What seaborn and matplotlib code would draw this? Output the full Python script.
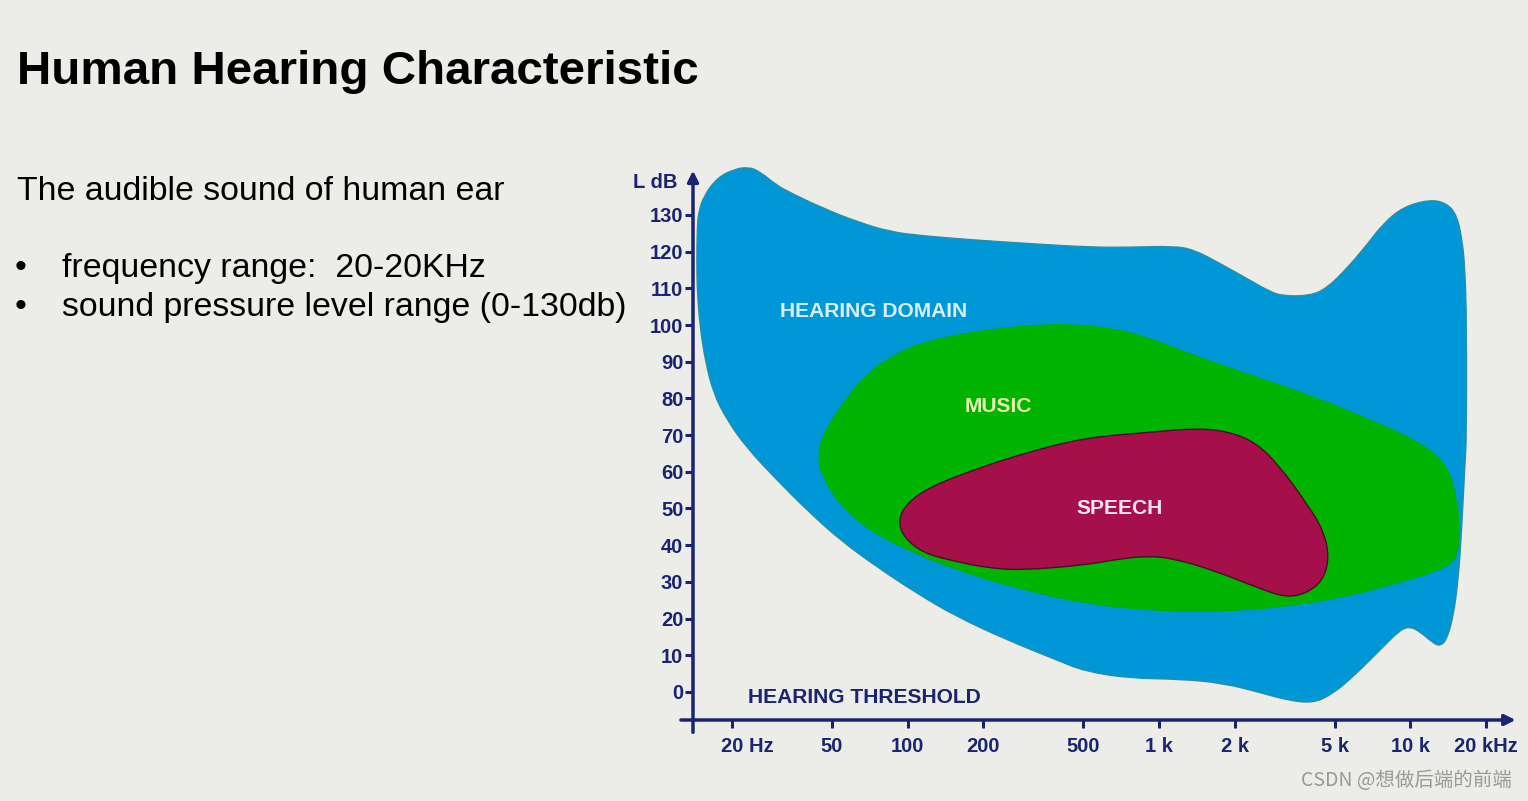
import numpy as np
import seaborn as sns
import matplotlib.pyplot as plt
from matplotlib.path import Path
from matplotlib.patches import PathPatch
from matplotlib.ticker import NullLocator
from matplotlib.transforms import ScaledTranslation

# Umrisse der Bereiche (Frequenz in Hz, Pegel in dB)
hearing_hz = [14.47, 14.55, 14.69, 15.38, 17.39, 20.24, 23.22, 25.85, 30.12, 34.02, 46.17,
              62.69, 85.06, 115.4, 182.5, 288.6, 531.7, 767.1, 1141, 1370, 1750, 2234, 2766,
              3125, 3990, 4650, 5587, 6708, 7811, 9383, 11985, 13964, 15304, 16021, 16515,
              16772, 16742, 16515, 16021, 15531, 14837, 13964, 13134, 12352, 10934, 9977,
              9104, 7578, 5935, 4941, 4114, 3224, 2601, 1803, 1212, 767.1, 507.8, 391.8,
              247.8, 156.7, 108.6, 75.3, 53.8, 39.66, 30.12, 22.9, 19.1, 16.85,
              15.62, 14.92, 14.55]
hearing_db = [117.7, 126.8, 130.4, 135.0, 140.0, 142.4, 143.1, 141.8, 138.1, 136.1, 131.8,
              128.2, 125.4, 124.3, 123.2, 122.3, 121.2, 121.2, 121.5, 120.6, 116.8, 112.7,
              109.1, 107.9, 108.0, 110.0, 115.4, 121.8, 127.7, 132.2, 134.2, 133.2, 130.0,
              124.1, 115.9, 99.5, 68.7, 62.3, 44.1, 30.5, 20.5, 14.2, 12.5, 13.3, 16.4, 17.8,
              16.9, 11.4, 4.2, -0.4, -3.1, -2.2, -0.4, 2.4, 3.5, 3.7, 5.6, 8.7, 14.2, 20.5,
              26.9, 34.1, 41.4, 49.6, 57.8, 66.5, 74.1, 81.4, 90.5, 99.5, 108.6]

music_hz = [45.5, 53.8, 66.6, 85.06, 115.4, 182.5, 288.6, 434.6, 658.1, 893.9, 1413, 2234,
            4114, 6504, 10734, 13964, 15304, 15772, 15304, 13134, 8831, 5587, 3533, 2234,
            1413, 893.9, 507.8, 288.6, 156.7, 99.1, 66.6, 50.6, 44.8, 44.1]
music_db = [69.6, 77.7, 85.9, 91.4, 95.4, 98.2, 99.8, 100.3, 99.1, 96.8, 91.4, 86.8, 80.5,
            75.0, 68.4, 62.3, 53.2, 44.1, 36.0, 33.2, 29.6, 26.0, 23.7, 22.3, 21.9, 22.3,
            24.1, 27.8, 33.2, 38.7, 45.0, 53.2, 60.5, 64.1]

speech_hz = [91.8, 99.1, 122.7, 182.5, 288.6, 507.8, 893.9, 1413, 1917, 2449, 3031, 3872,
             4508, 4762, 4508, 3872, 3224, 2601, 1646, 1141, 893.9, 658.1, 507.8, 288.6,
             212.7, 156.7, 115.4, 96.1]
speech_db = [46.9, 51.4, 55.9, 60.5, 65.0, 69.3, 70.7, 71.9, 70.9, 67.8, 61.4, 51.4, 44.1,
             36.9, 30.5, 26.9, 25.8, 27.8, 33.2, 36.4, 37.1, 36.0, 34.6, 33.2, 33.7, 35.5,
             37.8, 42.3]

freq_ticks = [20, 50, 100, 200, 500, 1000, 2000, 5000, 10000, 20000]
freq_labels = ['20 Hz', '50', '100', '200', '500', '1 k', '2 k', '5 k', '10 k', '20 kHz']
db_ticks = [0, 10, 20, 30, 40, 50, 60, 70, 80, 90, 100, 110, 120, 130]

bg = '#ECECE8'
navy = '#1B2470'


def blob(hz, db):
    # geschlossene, weiche Kontur: die Punkte sind Kontrollpunkte quadratischer Kurven
    hz = np.asarray(hz, float)
    db = np.asarray(db, float)
    hz_n = np.roll(hz, -1)
    db_n = np.roll(db, -1)
    mid_hz = np.sqrt(hz * hz_n)
    mid_db = (db + db_n) / 2
    verts = [(mid_hz[-1], mid_db[-1])]
    codes = [Path.MOVETO]
    for i in range(len(hz)):
        verts += [(hz[i], db[i]), (mid_hz[i], mid_db[i])]
        codes += [Path.CURVE3, Path.CURVE3]
    verts.append(verts[0])
    codes.append(Path.CLOSEPOLY)
    return Path(verts, codes)


sns.set_theme(style='ticks')
plt.rcParams['font.family'] = ['Liberation Sans', 'DejaVu Sans']

fig = plt.figure(figsize=(15.28, 8.01), dpi=100, facecolor=bg)

# Textteil links
fig.text(17 / 1528, 1 - 84 / 801, 'Human Hearing Characteristic', fontsize=34.2,
         fontweight='bold', color='black', va='baseline')
fig.text(17 / 1528, 1 - 200 / 801, 'The audible sound of human ear', fontsize=24.4,
         color='black', va='baseline')
fig.text(15 / 1528, 1 - 277 / 801, '•', fontsize=24.4, color='black', va='baseline')
fig.text(62 / 1528, 1 - 277 / 801, 'frequency range:  20-20KHz', fontsize=24.4,
         color='black', va='baseline')
fig.text(15 / 1528, 1 - 316 / 801, '•', fontsize=24.4, color='black', va='baseline')
fig.text(62 / 1528, 1 - 316 / 801, 'sound pressure level range (0-130db)', fontsize=24.4,
         color='black', va='baseline')

# Diagramm
ax = fig.add_axes([693 / 1528, 81 / 801, 827 / 1528, 560 / 801])
ax.patch.set_visible(False)
ax.set_xscale('log')
ax.set_xlim(13.99, 27335)
ax.set_ylim(-7.63, 144.96)

ax.add_patch(PathPatch(blob(hearing_hz, hearing_db), fc='#0097D7', ec='#2C8FA0', lw=0.9,
                       zorder=1, transform=ax.transData, clip_on=False))
ax.add_patch(PathPatch(blob(music_hz, music_db), fc='#00B400', ec='#00AC00', lw=0.6,
                       zorder=2, transform=ax.transData))
ax.add_patch(PathPatch(blob(speech_hz, speech_db), fc='#A5104A', ec='#4E0A26', lw=1.0,
                       zorder=3, transform=ax.transData))

ax.set_xticks(freq_ticks, freq_labels)
ax.xaxis.set_minor_locator(NullLocator())
ax.set_yticks(db_ticks)
ax.tick_params(axis='both', direction='out', length=5.5, width=2.2, color=navy,
               labelcolor=navy, labelsize=14.5, bottom=True, left=True)
ax.tick_params(axis='x', pad=7)
ax.tick_params(axis='y', pad=1.5)
for lab in ax.get_xticklabels() + ax.get_yticklabels():
    lab.set_fontweight('bold')
first = ax.get_xticklabels()[0]
first.set_transform(first.get_transform() + ScaledTranslation(0.15, 0, fig.dpi_scale_trans))

for s in ax.spines.values():
    s.set_visible(False)

# Achsen mit Pfeilen
ax.annotate('', xy=(0, 0.986), xytext=(0, -0.027), xycoords='axes fraction',
            arrowprops=dict(arrowstyle='-|>', color=navy, lw=2.5, mutation_scale=16),
            annotation_clip=False, zorder=5)
ax.annotate('', xy=(0.998, 0), xytext=(-0.018, 0), xycoords='axes fraction',
            arrowprops=dict(arrowstyle='-|>', color=navy, lw=2.5, mutation_scale=16),
            annotation_clip=False, zorder=5)

ax.text(12.1, 138.7, 'L dB', ha='right', va='center', fontsize=14.5, fontweight='bold',
        color=navy)
ax.text(31, 103.8, 'HEARING DOMAIN', ha='left', va='center', fontsize=15.1,
        fontweight='bold', color='#D8EEF8', zorder=4)
ax.text(229, 77.9, 'MUSIC', ha='center', va='center', fontsize=15.1, fontweight='bold',
        color='#E6F3B0', zorder=4)
ax.text(700, 49.9, 'SPEECH', ha='center', va='center', fontsize=15.1, fontweight='bold',
        color='#F5E6EC', zorder=4)
ax.text(23.2, -1.4, 'HEARING THRESHOLD', ha='left', va='center', fontsize=15.1,
        fontweight='bold', color=navy, zorder=4)

fig.text(1512 / 1528, 1 - 781 / 801, 'CSDN @想做后端的前端', ha='right', va='center',
         fontsize=14, color='#999999', family=['Noto Sans CJK SC', 'DejaVu Sans'])

fig.savefig('out.png', dpi=100, facecolor=bg)
